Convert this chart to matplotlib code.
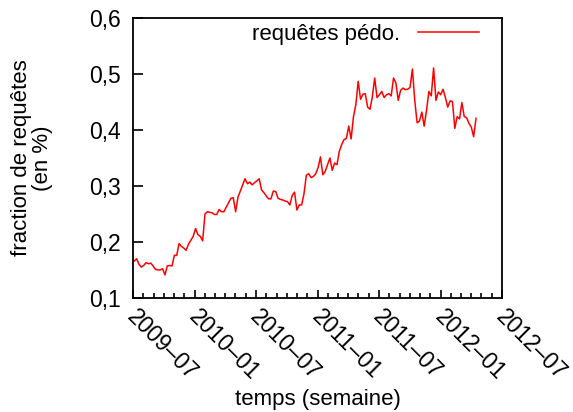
import pandas as pd
import matplotlib
matplotlib.use('Agg')
import matplotlib.pyplot as plt
import matplotlib.dates as mdates
from matplotlib.ticker import FuncFormatter, MultipleLocator
from matplotlib.transforms import ScaledTranslation

plt.rcParams['font.family'] = ['Liberation Sans', 'DejaVu Sans']

# weekly share of queries (%)
start_week = '2009-07-05'
share = [
    0.166, 0.170, 0.160, 0.155, 0.158, 0.163, 0.161, 0.162, 0.157,
    0.151, 0.150, 0.150, 0.152, 0.141, 0.157, 0.158, 0.157, 0.176,
    0.176, 0.197, 0.192, 0.189, 0.185, 0.196, 0.203, 0.210, 0.224, 0.213,
    0.210, 0.202, 0.250, 0.254, 0.253, 0.252, 0.249, 0.249, 0.258, 0.254,
    0.254, 0.262, 0.270, 0.278, 0.279, 0.254, 0.280, 0.291, 0.302, 0.313,
    0.304, 0.307, 0.302, 0.306, 0.309, 0.313, 0.293, 0.288, 0.282, 0.277,
    0.277, 0.291, 0.290, 0.278, 0.276, 0.275, 0.273, 0.272, 0.266, 0.283,
    0.289, 0.257, 0.266, 0.266, 0.286, 0.319, 0.322, 0.315, 0.317, 0.322,
    0.333, 0.352, 0.320, 0.326, 0.338, 0.350, 0.328, 0.341, 0.338,
    0.362, 0.374, 0.383, 0.385, 0.407, 0.384, 0.424, 0.445, 0.487, 0.455,
    0.464, 0.465, 0.441, 0.437, 0.459, 0.493, 0.458, 0.463, 0.469, 0.458,
    0.463, 0.465, 0.461, 0.493, 0.484, 0.453, 0.471, 0.475, 0.472,
    0.473, 0.476, 0.509, 0.453, 0.413, 0.416, 0.432, 0.407, 0.435, 0.469,
    0.461, 0.511, 0.453, 0.468, 0.463, 0.473, 0.458, 0.441, 0.452, 0.451,
    0.403, 0.424, 0.420, 0.449, 0.424, 0.422, 0.412, 0.405, 0.388, 0.421,
]
weeks = pd.date_range(start_week, periods=len(share), freq='7D')

fig = plt.figure(figsize=(5.73, 4.12), dpi=100)
ax = fig.add_axes([0.232, 0.277, 0.644, 0.679])

ax.plot(weeks, share, color='#ff0000', lw=1.1, label='requêtes pédo.')

ax.set_xlim(pd.Timestamp('2009-07-01'), pd.Timestamp('2012-07-01'))
ax.set_ylim(0.1, 0.6)

fs = 16.5
ax.xaxis.set_major_locator(mdates.MonthLocator(bymonth=[1, 7]))
ax.xaxis.set_minor_locator(mdates.MonthLocator())
ax.xaxis.set_major_formatter(mdates.DateFormatter('%Y–%m'))
ax.yaxis.set_major_locator(MultipleLocator(0.1))
ax.yaxis.set_major_formatter(FuncFormatter(lambda v, p: f'{v:.1f}'.replace('.', ',')))

ax.tick_params(axis='x', which='major', direction='in', length=6, width=1.2,
               labelsize=fs, pad=7)
ax.tick_params(axis='x', which='minor', direction='in', length=3.5, width=1.2)
ax.tick_params(axis='y', which='major', direction='in', length=7, width=1.2,
               labelsize=fs, pad=9)

# rotated date labels hang down-right from their tick
shift = ScaledTranslation(0.06, 0.02, fig.dpi_scale_trans)
for tick in ax.xaxis.get_major_ticks():
    lbl = tick.label1
    lbl.set_rotation(-45)
    lbl.set_ha('left')
    lbl.set_va('top')
    lbl.set_rotation_mode('anchor')
    lbl.set_transform(lbl.get_transform() + shift)

for sp in ax.spines.values():
    sp.set_linewidth(1.3)

ax.set_xlabel('temps (semaine)', fontsize=16)
ax.xaxis.set_label_coords(0.5, -0.325)
ax.set_ylabel('fraction de requêtes\n(en %)', fontsize=16, linespacing=1.0)
ax.yaxis.set_label_coords(-0.217, 0.5)

ax.legend(loc='upper right', frameon=False, markerfirst=False, fontsize=16,
          handlelength=2.75, handletextpad=0.8, borderaxespad=0.0,
          bbox_to_anchor=(0.962, 1.01))

fig.savefig('out.png', dpi=100)
